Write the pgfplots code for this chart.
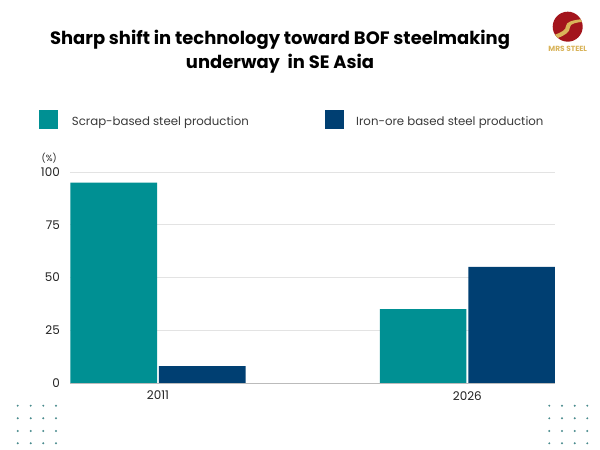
\documentclass[border=0pt]{standalone}
\usepackage{pgfplots}
\pgfplotsset{compat=1.18}
\usepackage{fontspec}
\setmainfont{Poppins}
\definecolor{teal1}{HTML}{009093}
\definecolor{navy1}{HTML}{003F72}
\definecolor{gridc}{HTML}{E3E3E3}
\definecolor{basec}{HTML}{BBBBBB}
\definecolor{dotc}{HTML}{4A8C8E}
\definecolor{logored}{HTML}{A3141C}
\definecolor{logogold}{HTML}{D9B45A}
\definecolor{txt}{HTML}{222222}
\definecolor{legtxt}{HTML}{3A3A3A}
\begin{document}
\begin{tikzpicture}[x=1bp,y=1bp]
\path[use as bounding box, fill=white] (0,0) rectangle (600,450);
% title
\node[font=\bfseries\fontsize{18}{21}\selectfont, anchor=base, text=black] at (280,405) {Sharp shift in technology toward BOF steelmaking};
\node[font=\bfseries\fontsize{18}{21}\selectfont, anchor=base, text=black] at (280,381) {underway\ \ in SE Asia};
% logo
\fill[logored] (567.7,423.3) circle (15);
\begin{scope}
\clip (567.7,423.3) circle (15);
\fill[logogold] (552,414) .. controls (562,418) and (566,420) .. (566,424) .. controls (566,428) and (572,430) .. (584,431)
  -- (584,428) .. controls (576,428) and (570,426) .. (570,423) .. controls (570,418) and (565,414) .. (552,410) -- cycle;
\end{scope}
\node[font=\bfseries\fontsize{7.5}{8}\selectfont, text=logogold] at (567.7,401) {MRS STEEL};
% legend
\fill[teal1] (39.3,321) rectangle (58.3,340);
\node[font=\fontsize{11.8}{13}\selectfont, text=legtxt, anchor=base west, inner sep=0] at (71.7,324.5) {Scrap-based steel production};
\fill[navy1] (325,321) rectangle (344,340);
\node[font=\fontsize{11.8}{13}\selectfont, text=legtxt, anchor=base west, inner sep=0] at (356,324.5) {Iron-ore based steel production};
% unit
\node[font=\fontsize{9}{10}\selectfont, text=txt] at (49.2,292) {(\%)};
% dots
\foreach \xx in {17.7,30.7,43.3,56,549.3,562,574.7,587.3}{
  \foreach \yy in {405.7,418.3,431,443.3}{
    \fill[dotc] (\xx,450-\yy) circle (1.1);
  }
}
\begin{axis}[
  at={(70bp,67bp)}, anchor=south west,
  width=485bp, height=211bp, scale only axis,
  xmin=-0.2845, xmax=1.2835, ymin=0, ymax=100,
  axis line style={draw=none},
  ytick={25,50,75,100},
  extra y ticks={0},
  extra y tick style={grid style={color=basec, line width=0.8pt}},
  ymajorgrids,
  grid style={color=gridc, line width=0.7pt},
  major tick length=0pt,
  xtick={0,1}, xticklabels={2011,2026},
  /pgf/number format/assume math mode=true,
  tick label style={font=\fontsize{12}{13}\selectfont, text=txt, inner sep=0pt},
  yticklabel style={anchor=east, xshift=-10bp},
  xticklabel style={anchor=north, yshift=-8bp},
  ybar, bar width=0.28,
  clip=false,
]
\addplot[fill=teal1, draw=none, bar shift=-0.143] coordinates {(0,95) (1,35)};
\addplot[fill=navy1, draw=none, bar shift=0.143] coordinates {(0,8) (1,55)};
\end{axis}
\end{tikzpicture}
\end{document}
